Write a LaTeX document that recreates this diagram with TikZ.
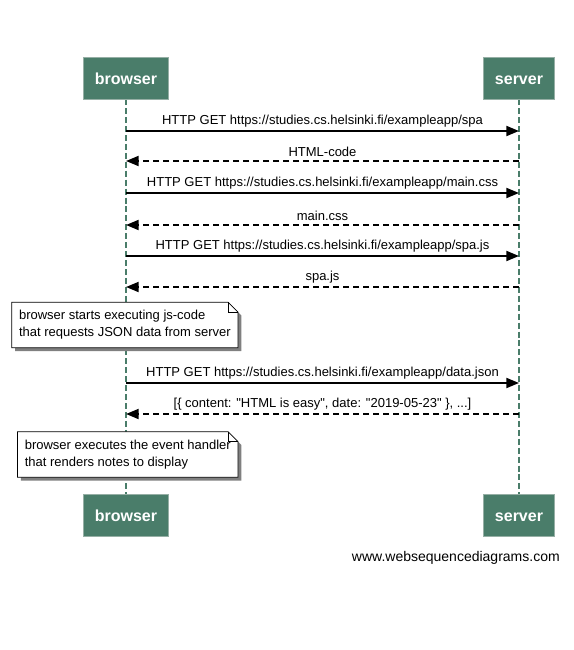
\documentclass[tikz,border=0pt]{standalone}
\usepackage{fontspec}
\setmainfont{Liberation Sans}[Ligatures=TeXOff]
\usetikzlibrary{arrows.meta,positioning,backgrounds}
\definecolor{actor-green}{RGB}{74,125,106}
\definecolor{actor-edge}{RGB}{150,175,165}
\tikzset{
    actor/.style = {draw=actor-edge, fill=actor-green, text=white, font=\fontsize{12}{14}\selectfont\bfseries, minimum height=31.5pt, inner xsep=8.5pt, text height=9pt, text depth=0pt},
    lifeline/.style = {draw=actor-green, line width=2.2pt, dash pattern=on 4.5pt off 2.2pt},
    call/.style = {line width=1.4pt, -{Triangle[length=9.5pt, width=7.5pt]}},
    reply/.style = {call, dash pattern=on 4.5pt off 3pt},
    msg/.style = {midway, above, inner sep=2.5pt, font=\fontsize{9.75}{11}\selectfont},
    note-box/.style = {align=left, inner xsep=5.25pt, inner ysep=6pt, font=\fontsize{9.75}{12.75}\selectfont},
    note-shape/.style = {draw=black, fill=white, line width=0.6pt},
    note-shadow/.style = {fill=black!50, transform canvas={xshift=2.5pt, yshift=-2.5pt}},
}

\begin{document}
\begin{tikzpicture}[x=0.75pt, y=-0.75pt]
\useasboundingbox (0,0) rectangle (574,650);

% participants
\node[actor] (browser-top) at (126,78) {browser};
\node[actor] (server-top) at (519,78) {server};
\node[actor] (browser-bottom) at (126,515.5) {browser};
\node[actor] (server-bottom) at (519,515.5) {server};

% points on the lifelines
\foreach \y/\n in {131/1, 161/2, 193/3, 225/4, 256/5, 287/6, 383/7, 414/8} {
    \coordinate (b\n) at (126,\y);
    \coordinate (s\n) at (519,\y);
}

% messages
\draw[call] (b1) -- node[msg] {HTTP GET https://studies.cs.helsinki.fi/exampleapp/spa} (s1);
\draw[reply] (s2) -- node[msg] {HTML-code} (b2);
\draw[call] (b3) -- node[msg] {HTTP GET https://studies.cs.helsinki.fi/exampleapp/main.css} (s3);
\draw[reply] (s4) -- node[msg] {main.css} (b4);
\draw[call] (b5) -- node[msg] {HTTP GET https://studies.cs.helsinki.fi/exampleapp/spa.js} (s5);
\draw[reply] (s6) -- node[msg] {spa.js} (b6);
\draw[call] (b7) -- node[msg] {HTTP GET https://studies.cs.helsinki.fi/exampleapp/data.json} (s7);
\draw[reply] (s8) -- node[msg] {[\{ content: "HTML is easy", date: "2019-05-23" \}, ...]} (b8);

% notes
\node[note-box, anchor=east] (note-js) at (238,325) {browser starts executing js-code\\that requests JSON data from server};
\node[note-box, anchor=east] (note-render) at (238,454.5) {browser executes the event handler\\that renders notes to display};
\begin{scope}[on background layer]
    \draw[lifeline] (browser-top) -- (browser-bottom);
    \draw[lifeline] (server-top) -- (server-bottom);
    \foreach \nt in {note-js, note-render} {
        \fill[note-shadow] ([xshift=-7.5pt]\nt.north east) -- ([yshift=-7.5pt]\nt.north east) -- (\nt.south east) -- (\nt.south west) -- (\nt.north west) -- cycle;
        \draw[note-shape] ([xshift=-7.5pt]\nt.north east) -- ([yshift=-7.5pt]\nt.north east) -- (\nt.south east) -- (\nt.south west) -- (\nt.north west) -- cycle;
        \draw[line width=0.6pt] ([xshift=-7.5pt]\nt.north east) |- ([yshift=-7.5pt]\nt.north east);
    }
\end{scope}

\node[anchor=base east, inner sep=0pt, font=\fontsize{10.5}{12}\selectfont] (credit) at (560,561) {www.websequencediagrams.com};
\end{tikzpicture}
\end{document}
